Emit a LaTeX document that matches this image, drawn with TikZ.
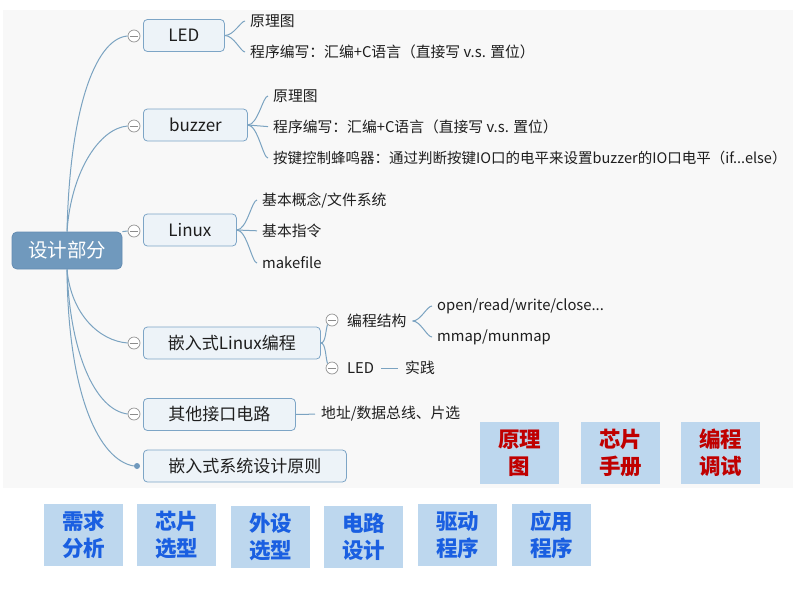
\documentclass[tikz,border=0pt]{standalone}
\usepackage{fontspec}
\setmainfont{Noto Sans CJK SC}
\definecolor{linec}{RGB}{123,163,193}
\definecolor{borderc}{RGB}{125,165,198}
\definecolor{topicfill}{RGB}{237,243,248}
\definecolor{rootc}{RGB}{112,153,189}
\definecolor{rootborder}{RGB}{100,140,178}
\definecolor{bgc}{RGB}{248,248,248}
\definecolor{cardfill}{RGB}{189,215,238}
\definecolor{redc}{RGB}{192,0,0}
\definecolor{bluec}{RGB}{26,95,225}
\definecolor{dotc}{RGB}{112,153,189}
\definecolor{txtc}{RGB}{30,30,30}
\begin{document}
\begin{tikzpicture}[x=1pt,y=-1pt,
  conn/.style={draw=linec, line width=1pt},
  rootbox/.style={draw=rootborder, fill=rootc, rounded corners=5pt, line width=0.8pt,
    minimum width=110pt, minimum height=37pt, inner sep=0pt, text=white,
    font=\fontsize{19.5}{22}\selectfont},
  topic/.style={draw=borderc, fill=topicfill, rounded corners=4pt, line width=0.8pt,
    minimum height=32pt, inner xsep=0pt, anchor=west, text=txtc,
    font=\fontsize{17}{20}\selectfont},
  leaf/.style={anchor=west, inner sep=0pt, text=txtc, font=\fontsize{14.8}{17}\selectfont},
  fold/.style={circle, draw=gray!85, fill=white, minimum size=12pt, inner sep=0pt, line width=0.7pt,
    path picture={\draw[gray!90, line width=0.8pt]
      ([xshift=-4pt]path picture bounding box.center) -- ([xshift=4pt]path picture bounding box.center);}},
  card/.style={fill=cardfill, minimum width=79pt, minimum height=62pt, align=center,
    inner sep=0pt, font=\fontsize{21.5}{27}\selectfont\bfseries}
]
\useasboundingbox (0,0) rectangle (793,595);
\fill[white] (0,0) rectangle (793,595);
\fill[bgc] (3,10) rectangle (793,488);

% root
\node[rootbox] (root) at (67,250.5) {设计部分};

% topics
\node[topic, minimum width=81pt] (led) at (143,35.5) {LED};
\node[topic, minimum width=104pt] (buz) at (143,125) {buzzer};
\node[topic, minimum width=93pt] (lin) at (143,230) {Linux};
\node[topic, minimum width=177pt] (emb) at (143,343) {嵌入式Linux编程};
\node[topic, minimum width=152pt] (oth) at (143,414.5) {其他接口电路};
\node[topic, minimum width=203pt] (pri) at (143,466) {嵌入式系统设计原则};

% fold markers
\node[fold] (ledf) at (134,36) {};
\node[fold] (buzf) at (134,126) {};
\node[fold] (linf) at (134,231) {};
\node[fold] (embf) at (134,343) {};
\node[fold] (othf) at (134,414) {};
\node[circle, fill=dotc, minimum size=6pt, inner sep=0pt] (prid) at (137,466) {};

% root connectors
\draw[conn] (root.north) .. controls +(3,-130) and +(-30,2) .. (ledf.west);
\draw[conn] (root.north) .. controls +(4,-60) and +(-28,2) .. (buzf.west);
\draw[conn] (root.north east) -- (linf.west);
\draw[conn] (root.south) .. controls +(4,45) and +(-28,-2) .. (embf.west);
\draw[conn] (root.south) .. controls +(3,85) and +(-32,-4) .. (othf.west);
\draw[conn] (root.south) .. controls +(1,125) and +(-35,-6) .. (prid.west);

% LED leaves
\node[leaf] (led1) at (250,21) {原理图};
\node[leaf] (led2) at (250,52) {程序编写：汇编+C语言（直接写 v.s. 置位）};
\draw[conn, shorten >=5pt] (led.east) .. controls +(9,0) and +(-9,0) .. (led1.west);
\draw[conn, shorten >=5pt] (led.east) .. controls +(9,0) and +(-9,0) .. (led2.west);

% buzzer leaves
\node[leaf] (buz1) at (273,96) {原理图};
\node[leaf] (buz2) at (273,127) {程序编写：汇编+C语言（直接写 v.s. 置位）};
\node[leaf, font=\fontsize{14.5}{17}\selectfont] (buz3) at (273,158) {按键控制蜂鸣器：通过判断按键IO口的电平来设置buzzer的IO口电平（if...else）};
\draw[conn, shorten >=5pt] (buz.east) .. controls +(10,0) and +(-10,0) .. (buz1.west);
\draw[conn, shorten >=5pt] (buz.east) -- (buz2.west);
\draw[conn, shorten >=5pt] (buz.east) .. controls +(10,0) and +(-10,0) .. (buz3.west);

% Linux leaves
\node[leaf] (lin1) at (262,200) {基本概念/文件系统};
\node[leaf] (lin2) at (262,231) {基本指令};
\node[leaf] (lin3) at (262,263) {makefile};
\draw[conn, shorten >=5pt] (lin.east) .. controls +(10,0) and +(-10,0) .. (lin1.west);
\draw[conn, shorten >=5pt] (lin.east) -- (lin2.west);
\draw[conn, shorten >=5pt] (lin.east) .. controls +(10,0) and +(-10,0) .. (lin3.west);

% embedded Linux programming
\node[fold] (sf1) at (332,320) {};
\node[fold] (sf2) at (332,368) {};
\draw[conn] (emb.east) .. controls +(5,0) and +(-2,6) .. (sf1.south west);
\draw[conn] (emb.east) .. controls +(5,0) and +(-2,-6) .. (sf2.north west);
\node[leaf] (st) at (347,321) {编程结构};
\node[leaf] (sl) at (347,368) {LED};
\node[leaf] (sj) at (405,368) {实践};
\draw[conn, shorten <=7pt, shorten >=7pt] (sl.east) -- (sj.west);
\node[leaf] (op1) at (437,306) {open/read/write/close...};
\node[leaf] (op2) at (437,337) {mmap/munmap};
\draw[conn, shorten <=6pt, shorten >=5pt] (st.east) .. controls +(14,0) and +(-10,0) .. (op1.west);
\draw[conn, shorten <=6pt, shorten >=5pt] (st.east) .. controls +(14,0) and +(-10,0) .. (op2.west);

% other interface circuits
\node[leaf] (ad) at (321,414) {地址/数据总线、片选};
\draw[conn, shorten >=6pt] (oth.east) -- (ad.west);

% red cards
\node[card, text=redc] (k1) at (519.5,453) {原理\\图};
\node[card, text=redc] (k2) at (620.5,453) {芯片\\手册};
\node[card, text=redc] (k3) at (720.5,453) {编程\\调试};

% blue cards
\node[card, text=bluec] (b1) at (83.5,535) {需求\\分析};
\node[card, text=bluec] (b2) at (176.5,535) {芯片\\选型};
\node[card, text=bluec] (b3) at (270.5,536.5) {外设\\选型};
\node[card, text=bluec] (b4) at (363.5,537) {电路\\设计};
\node[card, text=bluec] (b5) at (457.5,535) {驱动\\程序};
\node[card, text=bluec] (b6) at (551.5,535) {应用\\程序};
\end{tikzpicture}
\end{document}
